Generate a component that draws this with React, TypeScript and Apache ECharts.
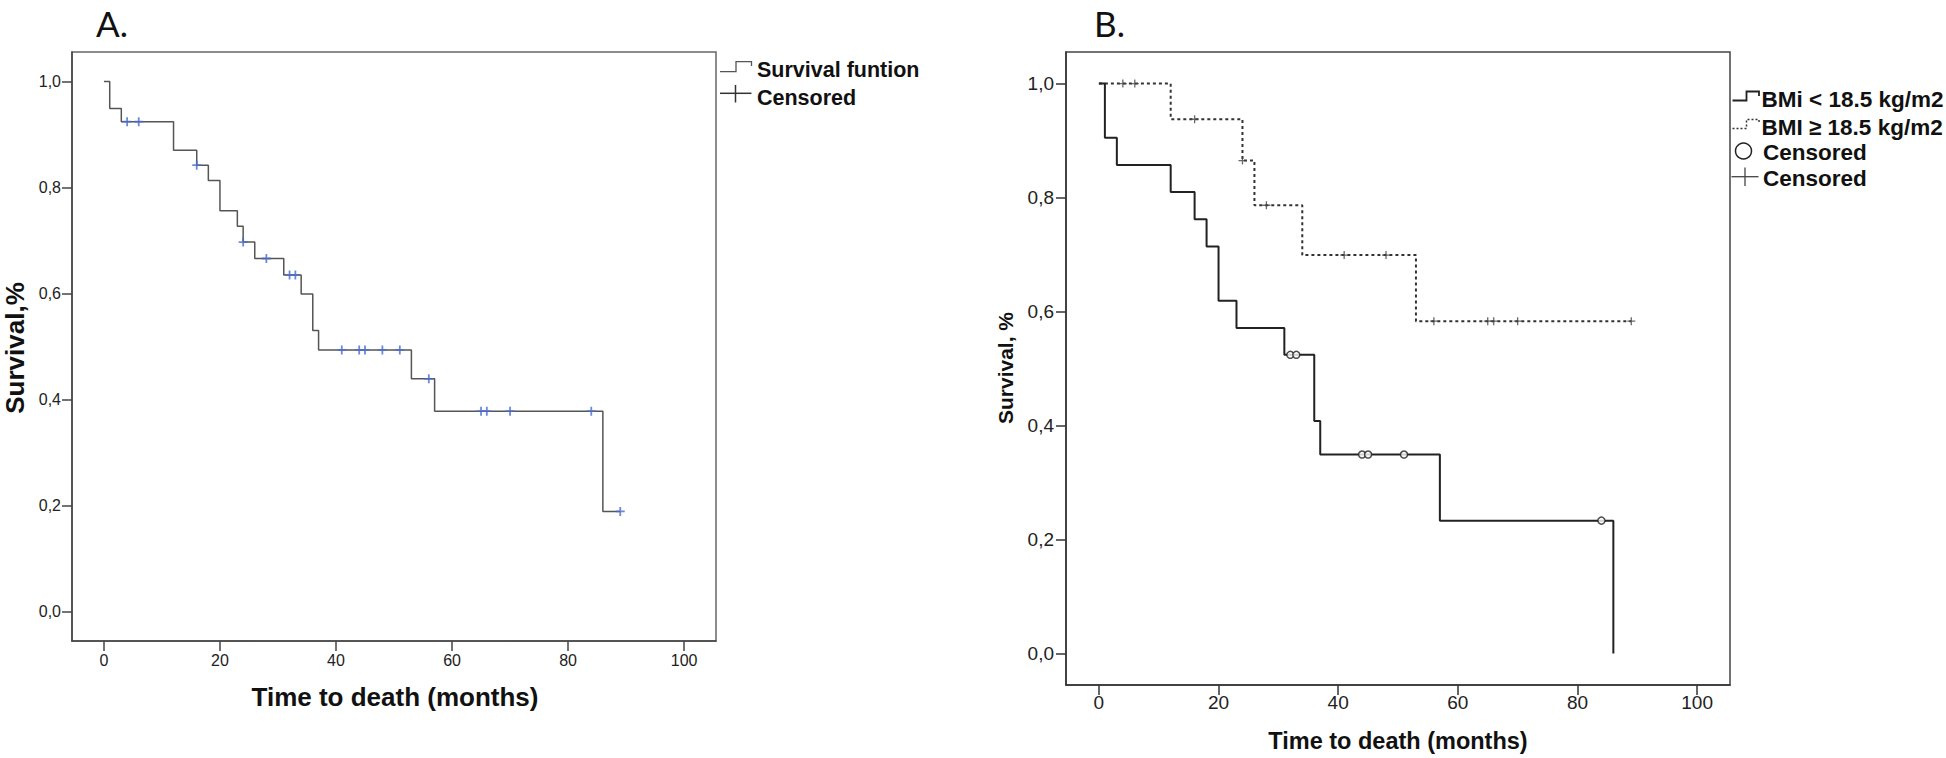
import React, { useEffect, useRef } from "react";
import * as echarts from "echarts";

// ---- Data ----
const X_TICKS = [0, 20, 40, 60, 80, 100];
const Y_TICKS = [0, 0.2, 0.4, 0.6, 0.8, 1.0];

// Panel A: overall survival function (step points: time, survival after the step)
const A_TIMES = [0, 1, 3, 12, 16, 18, 20, 23, 24, 26, 31, 34, 36, 37, 53, 57, 86, 89];
const A_SURV = [1.0, 0.949, 0.924, 0.870, 0.842, 0.813, 0.756, 0.727, 0.697, 0.666, 0.635, 0.599, 0.530, 0.4935, 0.439, 0.378, 0.189, 0.189];
const A_CENSOR = [4, 6, 16, 24, 28, 32, 33, 41, 44, 45, 48, 51, 56, 65, 66, 70, 84, 89];

// Panel B: BMi < 18.5 kg/m2
const B_LOW_TIMES = [0, 1, 3, 12, 16, 18, 20, 23, 31, 36, 37, 57, 86];
const B_LOW_SURV = [1.0, 0.905, 0.857, 0.810, 0.762, 0.714, 0.619, 0.571, 0.524, 0.408, 0.349, 0.233, 0.0];
const B_LOW_CENSOR = [32, 33, 44, 45, 51, 84];

// Panel B: BMI >= 18.5 kg/m2
const B_HIGH_TIMES = [0, 12, 24, 26, 34, 53, 89];
const B_HIGH_SURV = [1.0, 0.9375, 0.865, 0.7865, 0.699, 0.583, 0.583];
const B_HIGH_CENSOR = [4, 6, 16, 24, 28, 41, 48, 56, 65, 66, 70, 89];

const stepAt = (times: number[], surv: number[], t: number) => {
  let v = surv[0];
  for (let i = 0; i < times.length; i++) if (times[i] <= t) v = surv[i];
  return v;
};
const pairs = (times: number[], surv: number[]) => times.map((t, i) => [t, surv[i]]);
const censorPts = (times: number[], surv: number[], c: number[]) => c.map((t) => [t, stepAt(times, surv, t)]);

const fmt = (v: number) => v.toFixed(1).replace(".", ",");
const CROSS = "path://M0,5L10,5M5,0L5,10";
const FONT = "'Liberation Sans', Arial, sans-serif";

export default function App() {
  const ref = useRef<HTMLDivElement>(null);
  useEffect(() => {
    if (!ref.current) return;
    const chart = echarts.init(ref.current, null, { renderer: "svg" });

    const xAxisBase = (gridIndex: number, fs: number, margin: number, color: string) => ({
      type: "value",
      gridIndex,
      min: -5.5,
      max: 105.5,
      axisLine: { show: true, onZero: false, lineStyle: { color, width: 1.5 } },
      axisTick: { show: true, length: 10, customValues: X_TICKS, lineStyle: { color, width: 1.5 } },
      axisLabel: { customValues: X_TICKS, fontSize: fs, color: "#222", margin, fontFamily: FONT },
      splitLine: { show: false },
    });
    const yAxisBase = (gridIndex: number, fs: number, margin: number, color: string) => ({
      type: "value",
      gridIndex,
      min: -0.0555,
      max: 1.0555,
      axisLine: { show: true, onZero: false, lineStyle: { color, width: 1.5 } },
      axisTick: { show: true, length: 10, customValues: Y_TICKS, lineStyle: { color, width: 1.5 } },
      axisLabel: { customValues: Y_TICKS, fontSize: fs, color: "#222", margin, fontFamily: FONT, formatter: fmt },
      splitLine: { show: false },
    });

    const boldText = (text: string, x: number, y: number, size: number, rot = 0, align = "center") => ({
      type: "text",
      x,
      y,
      rotation: rot,
      style: { text, fontSize: size, fontWeight: "bold", fontFamily: FONT, fill: "#111", align, verticalAlign: "middle" },
    });

    chart.setOption({
      animation: false,
      backgroundColor: "#fff",
      grid: [
        { left: 72, top: 52, width: 644, height: 589, show: true, borderColor: "#666", borderWidth: 1.5, containLabel: false },
        { left: 1066, top: 52, width: 664, height: 633, show: true, borderColor: "#444", borderWidth: 1.5, containLabel: false },
      ],
      xAxis: [xAxisBase(0, 16, 11, "#444"), xAxisBase(1, 19, 8, "#333")],
      yAxis: [yAxisBase(0, 16, 11, "#444"), yAxisBase(1, 19, 12, "#333")],
      series: [
        {
          type: "line",
          xAxisIndex: 0,
          yAxisIndex: 0,
          step: "end",
          data: pairs(A_TIMES, A_SURV),
          showSymbol: false,
          symbol: "none",
          lineStyle: { color: "#555", width: 1.5 },
        },
        {
          type: "scatter",
          xAxisIndex: 0,
          yAxisIndex: 0,
          data: censorPts(A_TIMES, A_SURV, A_CENSOR),
          symbol: CROSS,
          symbolSize: 9,
          itemStyle: { color: "none", borderColor: "#4a6bcc", borderWidth: 1.8 },
          z: 5,
        },
        {
          type: "line",
          xAxisIndex: 1,
          yAxisIndex: 1,
          step: "end",
          data: pairs(B_HIGH_TIMES, B_HIGH_SURV),
          showSymbol: false,
          symbol: "none",
          lineStyle: { color: "#333", width: 2, type: [3, 3] },
        },
        {
          type: "line",
          xAxisIndex: 1,
          yAxisIndex: 1,
          step: "end",
          data: pairs(B_LOW_TIMES, B_LOW_SURV),
          showSymbol: false,
          symbol: "none",
          lineStyle: { color: "#222", width: 2 },
        },
        {
          type: "scatter",
          xAxisIndex: 1,
          yAxisIndex: 1,
          data: censorPts(B_HIGH_TIMES, B_HIGH_SURV, B_HIGH_CENSOR),
          symbol: CROSS,
          symbolSize: 8,
          itemStyle: { color: "none", borderColor: "#444", borderWidth: 1.3 },
          z: 5,
        },
        {
          type: "scatter",
          xAxisIndex: 1,
          yAxisIndex: 1,
          data: censorPts(B_LOW_TIMES, B_LOW_SURV, B_LOW_CENSOR),
          symbol: "circle",
          symbolSize: 7,
          itemStyle: { color: "#fff", borderColor: "#222", borderWidth: 1.5 },
          z: 5,
        },
      ],
      graphic: [
        { type: "text", x: 96, y: 23, style: { text: "A.", fontSize: 35, fontFamily: "Lato, 'Open Sans', sans-serif", fill: "#111", align: "left", verticalAlign: "middle" } },
        { type: "text", x: 1094, y: 23, style: { text: "B.", fontSize: 35, fontFamily: "Lato, 'Open Sans', sans-serif", fill: "#111", align: "left", verticalAlign: "middle" } },
        boldText("Survival,%", 15, 348, 26, Math.PI / 2),
        boldText("Time to death (months)", 395, 697, 26),
        boldText("Survival, %", 1005, 368, 21, Math.PI / 2),
        boldText("Time to death (months)", 1398, 741, 23.5),
        // Legend A
        { type: "polyline", shape: { points: [[720, 71.7], [736, 71.7], [736, 61.7], [751.5, 61.7], [751.5, 66]] }, style: { stroke: "#555", lineWidth: 1.3, fill: "none" } },
        { type: "line", shape: { x1: 720, y1: 93.3, x2: 751.5, y2: 93.3 }, style: { stroke: "#333", lineWidth: 1.5 } },
        { type: "line", shape: { x1: 735.5, y1: 85, x2: 735.5, y2: 102.5 }, style: { stroke: "#333", lineWidth: 1.5 } },
        boldText("Survival funtion", 757, 70, 21.5, 0, "left"),
        boldText("Censored", 757, 98, 21.5, 0, "left"),
        // Legend B
        { type: "polyline", shape: { points: [[1732.5, 100.5], [1746.5, 100.5], [1746.5, 91.5], [1759, 91.5], [1759, 96]] }, style: { stroke: "#222", lineWidth: 1.8, fill: "none" } },
        { type: "polyline", shape: { points: [[1732.5, 128.5], [1746.5, 128.5], [1746.5, 119.5], [1759, 119.5], [1759, 124]] }, style: { stroke: "#333", lineWidth: 1.5, fill: "none", lineDash: [2, 2] } },
        { type: "circle", shape: { cx: 1743.5, cy: 151, r: 8 }, style: { stroke: "#222", lineWidth: 1.5, fill: "#fff" } },
        { type: "line", shape: { x1: 1731.5, y1: 176.7, x2: 1758.5, y2: 176.7 }, style: { stroke: "#444", lineWidth: 1.3 } },
        { type: "line", shape: { x1: 1745, y1: 167.5, x2: 1745, y2: 186 }, style: { stroke: "#444", lineWidth: 1.3 } },
        boldText("BMi < 18.5 kg/m2", 1761.5, 99, 22.5, 0, "left"),
        boldText("BMI \u2265 18.5 kg/m2", 1761.5, 127, 22.5, 0, "left"),
        boldText("Censored", 1763, 152.5, 22.5, 0, "left"),
        boldText("Censored", 1763, 178, 22.5, 0, "left"),
      ],
    });
    return () => chart.dispose();
  }, []);
  return <div ref={ref} style={{ position: "fixed", left: 0, top: 0, width: 1946, height: 758, background: "#fff" }} />;
}
